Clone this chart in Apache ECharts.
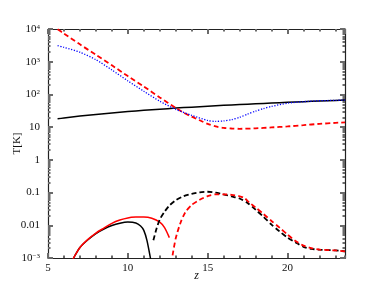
<!DOCTYPE html>
<html><head><meta charset="utf-8">
<script src="https://cdn.jsdelivr.net/npm/echarts@6/dist/echarts.min.js"></script>
<style>html,body{margin:0;padding:0;background:#fff}#c{width:384px;height:288px}</style>
</head><body><div id="c"></div>
<script>
// ---- data ----
var zCmb = [5.6,6,7,8,9,10,11,12,13,14,15,16,17,18,19,20,21,22,23,23.6];
var tCmb = [18,19,21.8,24.5,27.2,30,32.7,35.4,38.2,40.9,43.6,46.3,49,51.8,54.5,57.2,60,62.7,65.4,67];

var zRedUp = [5.6,6,7,8,9,10,11,12,13,13.5,14,14.5,15,15.5,16,16.5,17,18,19,20,21,22,23,23.6];
var tRedUp = [9800,7240,3390,1620,776,363,174,81,39,27.5,20.9,16.2,12.6,10.5,9.5,9.1,8.9,9.2,9.8,10.5,11.5,12.6,13.5,14];

var zBlue = [5.6,6,7,8,9,10,11,12,13,14,15,15.5,16,16.5,17,17.5,18,18.5,19,20,21,22,23,23.6];
var tBlue = [3090,2750,1950,1150,560,260,125,62,35,23,16,15,15.5,17,20,25,31,37,43,54,60,64,66,67];

var zBlackLow = [6.6,7,7.5,8,8.5,9,9.5,10,10.5,10.8,11,11.2,11.45];
var tBlackLow = [0.001,0.0021,0.0036,0.0056,0.0077,0.0098,0.0115,0.0125,0.0118,0.0095,0.007,0.0034,0.0008];

var zRedLow = [6.55,7,7.5,8,8.5,9,9.5,10,10.5,11,11.5,12,12.3,12.6];
var tRedLow = [0.0009,0.0021,0.0037,0.0058,0.0082,0.0115,0.0145,0.0168,0.0178,0.018,0.0165,0.0125,0.0085,0.0042];

var zBlackDash = [11.6,11.8,12,12.3,12.6,13,13.5,14,14.5,15,15.5,16,16.5,17,17.5,18,18.5,19,19.5,20,20.5,21,21.5,22,23,23.6];
var tBlackDash = [0.0035,0.008,0.015,0.026,0.04,0.058,0.078,0.092,0.102,0.106,0.1,0.088,0.076,0.066,0.048,0.03,0.018,0.0105,0.0065,0.0042,0.003,0.0022,0.0019,0.0018,0.0017,0.0016];

var zRedDash = [12.8,13,13.3,13.6,14,14.5,15,15.5,16,16.5,17,17.3,17.6,18,18.5,19,19.5,20,20.5,21,21.5,22,23,23.6];
var tRedDash = [0.0012,0.004,0.012,0.025,0.042,0.06,0.078,0.088,0.088,0.085,0.077,0.068,0.05,0.035,0.022,0.0135,0.0085,0.0052,0.0033,0.0024,0.002,0.0018,0.0017,0.0016];

var xTicks = [5,10,15,20];
var yTickLabels = {'10000':'{b|10}{s|4}','1000':'{b|10}{s|3}','100':'{b|10}{s|2}','10':'10','1':'1','0.1':'0.1','0.01':'0.01','0.001':'{b|10}{s|\u22123}'};

function pairs(x, y){ return x.map(function(v,i){ return [v, y[i]]; }); }

var FONT = 'Liberation Serif';
var TC = '#6a6a6a';
var chart = echarts.init(document.getElementById('c'));
function xAx(pos, interval, len, showLabel, showLine){
  var a = {type:'value', position:pos, min:5, max:23.6, interval:interval,
    axisLine:{show:showLine, onZero:false, lineStyle:{color:'#222', width:1.2}},
    axisTick:{show:true, inside:true, length:len, lineStyle:{color:TC, width:2}},
    splitLine:{show:false}};
  if (showLabel) {
    a.axisLabel = {show:true, showMaxLabel:false, margin:5, color:'#111', fontFamily:FONT, fontSize:11,
      formatter:function(v){ return xTicks.indexOf(v)>=0 ? String(v) : ''; }};
  } else {
    a.axisLabel = {show:false};
  }
  return a;
}
var xa0 = xAx('bottom',5,5,true,true);
xa0.name = 'z'; xa0.nameLocation='middle'; xa0.nameGap=12; xa0.nameMoveOverlap=false;
xa0.nameTextStyle = {fontFamily:FONT, fontSize:12, color:'#111', fontStyle:'italic'};
function yAx(pos, showLabel){
  var a = {type:'log', position:pos, min:0.001, max:10000,
    axisLine:{show:true, onZero:false, lineStyle:{color:'#222', width:1.2}},
    axisTick:{show:true, inside:true, length:5, lineStyle:{color:TC, width:2}},
    minorTick:{show:true, splitNumber:9, length:2.5, lineStyle:{color:TC, width:2}},
    splitLine:{show:false}};
  if (showLabel) {
    a.axisLabel = {show:true, margin:8, color:'#111', fontFamily:FONT, fontSize:11,
      formatter:function(v){ var k=String(+(+v).toPrecision(3)); return yTickLabels[k]!==undefined?yTickLabels[k]:k; },
      rich:{b:{fontFamily:FONT, fontSize:11, color:'#111', verticalAlign:'bottom'},
            s:{fontFamily:FONT, fontSize:7, color:'#111', verticalAlign:'top'}}};
  } else {
    a.axisLabel = {show:false};
  }
  return a;
}
var ya0 = yAx('left', true);
ya0.name = 'T[K]'; ya0.nameLocation='middle'; ya0.nameGap=25; ya0.nameRotate=90; ya0.nameMoveOverlap=false;
ya0.nameTextStyle = {fontFamily:FONT, fontSize:11, color:'#111'};
var ya1 = yAx('right', false);

function line(x,y,color,type,width){
  return {type:'line', data:pairs(x,y), symbol:'none', smooth:0.25, clip:true,
    xAxisIndex:0, yAxisIndex:0,
    lineStyle:{color:color, width:width, type:type}};
}
chart.setOption({
  animation:false,
  grid:{left:48, right:39, top:29, bottom:30, outerBoundsMode:'none'},
  xAxis:[xa0, xAx('bottom',1,2.5,false,false), xAx('top',5,5,false,true), xAx('top',1,2.5,false,false)],
  yAxis:[ya0, ya1],
  series:[
    line(zCmb,tCmb,'#000','solid',1.5),
    line(zRedUp,tRedUp,'#ff0000',[5,3],1.8),
    line(zBlue,tBlue,'#0000ff',[1.2,1.6],1.3),
    line(zBlackLow,tBlackLow,'#000','solid',1.5),
    line(zRedLow,tRedLow,'#ff0000','solid',1.5),
    line(zBlackDash,tBlackDash,'#000',[5,3],1.8),
    line(zRedDash,tRedDash,'#ff0000',[5,3],1.8)
  ]
});
</script></body></html>
